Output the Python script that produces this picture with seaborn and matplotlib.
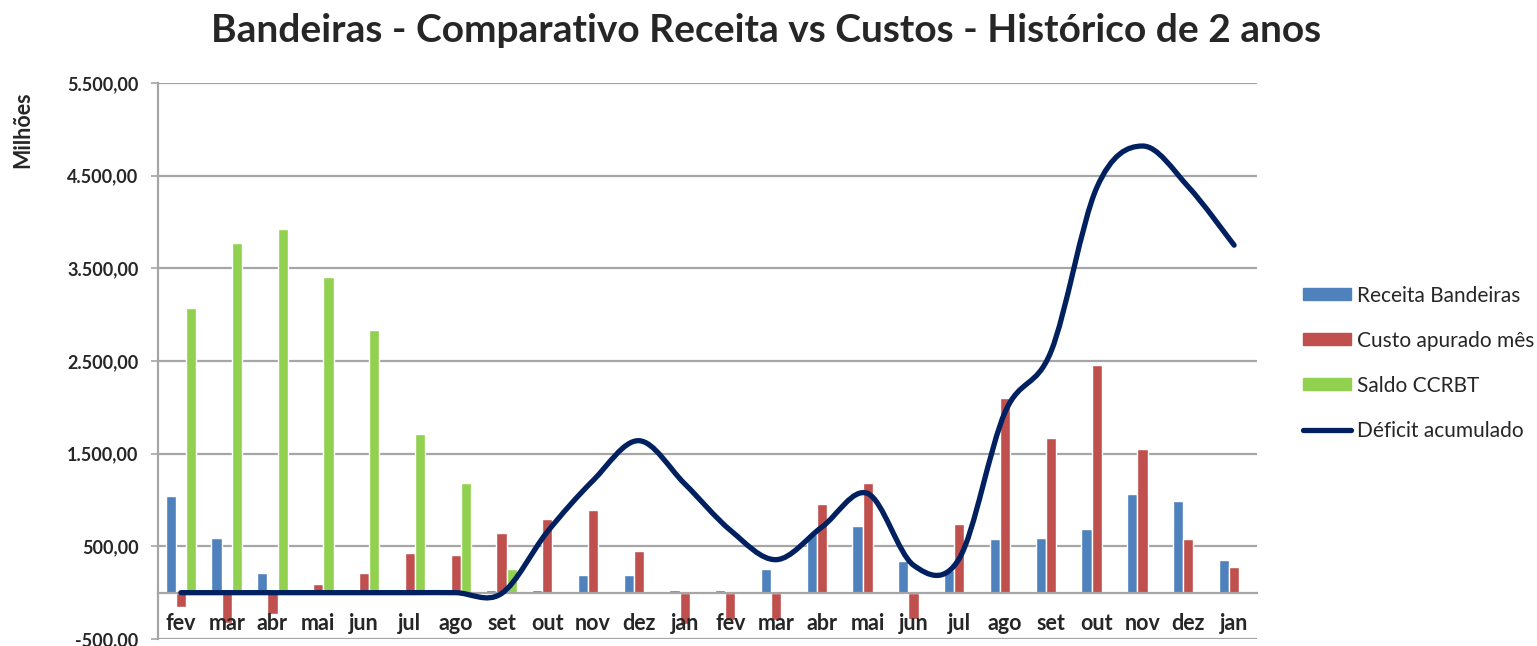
import numpy as np
import pandas as pd
import matplotlib
matplotlib.use('Agg')
import matplotlib.pyplot as plt
import matplotlib.ticker as ticker
from matplotlib.path import Path
from matplotlib.patches import PathPatch, Patch
from matplotlib.lines import Line2D
import seaborn as sns

# ─── dados (milhões) ─────────────────────────────────────────────────────────
meses = ['fev', 'mar', 'abr', 'mai', 'jun', 'jul', 'ago', 'set', 'out', 'nov', 'dez', 'jan',
         'fev', 'mar', 'abr', 'mai', 'jun', 'jul', 'ago', 'set', 'out', 'nov', 'dez', 'jan']
receita = [1040, 595, 216, 0, 0, 0, 0, 25, 25, 194, 194, 25,
           25, 255, 630, 719, 345, 240, 577, 595, 682, 1070, 985, 352]
custo = [-156, -330, -228, 96, 212, 423, 410, 644, 799, 896, 450, -335,
         -300, -300, 953, 1183, -285, 745, 2105, 1670, 2460, 1550, 584, 277]
saldo = [3070, 3768, 3928, 3405, 2830, 1709, 1183, 252, 0, 0, 0, 0,
         0, 0, 0, 0, 0, 0, 0, 0, 0, 0, 0, 0]
deficit = [0, 0, 0, 0, 0, 0, 0, -10, 655, 1210, 1640, 1176,
           673, 356, 709, 1070, 296, 370, 1950, 2600, 4370, 4820, 4380, 3750]
y_ticks = [-500, 500, 1500, 2500, 3500, 4500, 5500]

series = ['Receita Bandeiras', 'Custo apurado mês', 'Saldo CCRBT']
cores = {'Receita Bandeiras': '#4F81BD', 'Custo apurado mês': '#C0504D',
         'Saldo CCRBT': '#92D050'}
COR_LINHA = '#002060'
COR_GRADE = '#A6A6A6'

pos = np.arange(len(meses))
df = pd.DataFrame({
    'pos': np.tile(pos, 3),
    'valor': receita + custo + saldo,
    'serie': np.repeat(series, len(meses)),
})


def curva_suave(xs, ys):
    # curva suavizada estilo Excel (Bezier a partir dos pontos)
    pts = np.column_stack([xs, ys]).astype(float)
    n = len(pts)
    verts, codes = [pts[0]], [Path.MOVETO]
    for i in range(n - 1):
        p0 = pts[i - 1] if i > 0 else pts[i]
        p1, p2 = pts[i], pts[i + 1]
        p3 = pts[i + 2] if i + 2 < n else pts[i + 1]
        verts += [p1 + (p2 - p0) / 6, p2 - (p3 - p1) / 6, p2]
        codes += [Path.CURVE4] * 3
    return Path(verts, codes)


def fmt_br(v):
    s = f"{v:,.2f}"
    return s.replace(',', 'X').replace('.', ',').replace('X', '.')


sns.set_theme(style='white')
plt.rcParams['font.family'] = ['Lato', 'DejaVu Sans']

fig = plt.figure(figsize=(15.37, 6.46), dpi=100)
ax = fig.add_axes([158 / 1537, 7 / 646, 1099 / 1537, 556 / 646])

sns.barplot(data=df, x='pos', y='valor', hue='serie', hue_order=series,
            palette=cores, width=0.667, gap=0, saturation=1, errorbar=None,
            legend=False, ax=ax)

ax.add_patch(PathPatch(curva_suave(pos, deficit), fill=False, edgecolor=COR_LINHA,
                       lw=3.8, capstyle='round', joinstyle='round', zorder=5))

# eixo horizontal no zero (isso recria os ticks, então vem antes do estilo)
ax.spines['bottom'].set_position(('data', 0))
for s in ['top', 'right']:
    ax.spines[s].set_visible(False)
for s in ['left', 'bottom']:
    ax.spines[s].set_color(COR_GRADE)
    ax.spines[s].set_linewidth(1.6)

ax.tick_params(axis='x', which='major', length=0, pad=15)
ax.tick_params(axis='x', which='minor', length=5, width=1.2, color=COR_GRADE, direction='out')
ax.tick_params(axis='y', length=5, width=1.2, color=COR_GRADE, pad=9,
               direction='out', left=True)

ax.set_xlim(-0.5, len(meses) - 0.5)
ax.set_ylim(-500, 5500)
ax.set_yticks(y_ticks, labels=[fmt_br(v) for v in y_ticks],
              fontsize=13, fontweight='bold')
ax.set_xticks(pos, labels=meses, fontsize=15.5, fontweight='bold')
ax.xaxis.set_minor_locator(ticker.FixedLocator(np.arange(-0.5, len(meses), 1)))
ax.grid(axis='y', color=COR_GRADE, lw=1.6)
ax.set_axisbelow(True)
ax.xaxis.set_zorder(3)
ax.set_xlabel('')
ax.set_ylabel('')

fig.text(766 / 1537, 1 - 30 / 646,
         'Bandeiras - Comparativo Receita vs Custos - Histórico de 2 anos',
         ha='center', va='center', fontsize=28, fontweight='bold')
fig.text(23 / 1537, 1 - 130 / 646, 'Milhões', rotation=90, ha='center', va='center',
         fontsize=15.5, fontweight='bold')

handles = [Patch(color=cores[s]) for s in series] + \
          [Line2D([], [], color=COR_LINHA, lw=3.8, solid_capstyle='round')]
fig.legend(handles, series + ['Déficit acumulado'], loc='center left',
           bbox_to_anchor=(1293 / 1537, 1 - 363 / 646), frameon=False,
           fontsize=15, borderpad=0, labelspacing=1.2, handlelength=2.3,
           handleheight=0.5, handletextpad=0.25)

fig.savefig('out.png', dpi=100)
